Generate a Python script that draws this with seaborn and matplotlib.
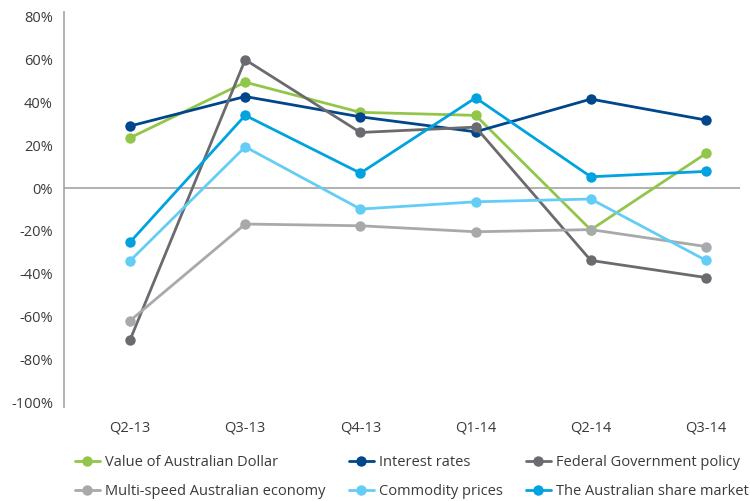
import pandas as pd
import numpy as np
import matplotlib
matplotlib.use("Agg")
import matplotlib.pyplot as plt
import seaborn as sns

quarters = ["Q2-13", "Q3-13", "Q4-13", "Q1-14", "Q2-14", "Q3-14"]

aud = [23.5, 49.5, 35.4, 34.0, -19.5, 16.2]
interest = [29.0, 42.8, 33.3, 26.3, 41.6, 31.8]
federal = [-71.0, 60.0, 26.0, 28.5, -33.8, -41.8]
multispeed = [-62.0, -16.8, -17.6, -20.4, -19.4, -27.3]
commodity = [-34.0, 19.3, -9.8, -6.4, -5.1, -33.8]
share = [-25.3, 34.0, 7.0, 42.2, 5.3, 7.8]

series_names = [
    "Value of Australian Dollar",
    "Interest rates",
    "Federal Government policy",
    "Multi-speed Australian economy",
    "Commodity prices",
    "The Australian share market",
]
series_values = [aud, interest, federal, multispeed, commodity, share]
colors = ["#92C64A", "#00468C", "#6B6B6F", "#A8A9AB", "#64CDF5", "#00A3E0"]

rows = []
for name, vals in zip(series_names, series_values):
    for q, v in zip(quarters, vals):
        rows.append({"Quarter": q, "Value": v, "Series": name})
df = pd.DataFrame(rows)

sns.set_theme(style="white")
plt.rcParams['font.family'] = ['Open Sans', 'DejaVu Sans']
text_col = "#3a3a3a"
axis_col = "#a3a3a3"

fig = plt.figure(figsize=(7.5, 5.01), dpi=100)
ax = fig.add_axes([64 / 750, 1 - 407 / 501, (740 - 64) / 750, (407 - 12) / 501])

ax.axhline(0, color=axis_col, lw=1.2, zorder=1)
for name, col in zip(series_names, colors):
    sns.lineplot(data=df[df["Series"] == name], x="Quarter", y="Value",
                 color=col, marker="o", markersize=7.5, markeredgewidth=0,
                 linewidth=2, label=name, ax=ax, sort=False, zorder=3)

ax.set_xlim(-0.573, 5.295)
ax.set_ylim(-102.3, 82.3)
ax.set_yticks(np.arange(-100, 81, 20))
ax.set_yticklabels([f"{v}%" for v in range(-100, 81, 20)])
ax.set_xlabel("")
ax.set_ylabel("")
ax.tick_params(axis="both", length=0, labelsize=10.5, colors=text_col)
ax.tick_params(axis="x", pad=10)
ax.tick_params(axis="y", pad=8)

for s in ["top", "right", "bottom"]:
    ax.spines[s].set_visible(False)
ax.spines["left"].set_color(axis_col)
ax.spines["left"].set_linewidth(1.2)

# legend reads row by row in the reference, matplotlib fills by column
handles, labels = ax.get_legend_handles_labels()
order = [0, 3, 1, 4, 2, 5]
ax.legend([handles[i] for i in order], [labels[i] for i in order],
          ncol=3, loc="upper left", bbox_to_anchor=(0.1, 0.092),
          bbox_transform=fig.transFigure, frameon=False, borderpad=0,
          borderaxespad=0, fontsize=10.5, labelcolor=text_col,
          handlelength=1.7, handletextpad=0.35, columnspacing=1.6,
          labelspacing=1.0)

fig.savefig("out.png", dpi=100)
